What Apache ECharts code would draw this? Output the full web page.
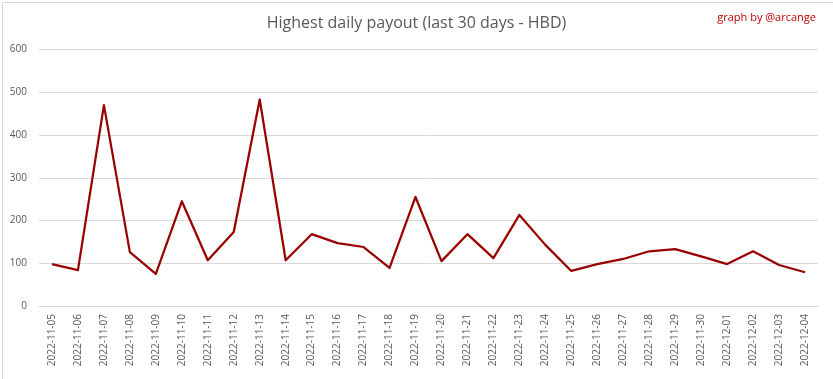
<!DOCTYPE html>
<html>
<head>
<meta charset="utf-8">
<script src="https://cdn.jsdelivr.net/npm/echarts@6/dist/echarts.min.js"></script>
<style>
html,body{margin:0;padding:0;background:#fff;}
#c{width:833px;height:379px;}
</style>
</head>
<body>
<div id="c"></div>
<script>
const categories = ["2022-11-05","2022-11-06","2022-11-07","2022-11-08","2022-11-09","2022-11-10","2022-11-11","2022-11-12","2022-11-13","2022-11-14","2022-11-15","2022-11-16","2022-11-17","2022-11-18","2022-11-19","2022-11-20","2022-11-21","2022-11-22","2022-11-23","2022-11-24","2022-11-25","2022-11-26","2022-11-27","2022-11-28","2022-11-29","2022-11-30","2022-12-01","2022-12-02","2022-12-03","2022-12-04"];
const payouts = [98,84,470,126,75,245,107,173,483,107,168,147,138,89,255,105,168,112,213,143,82,98,110,128,133,116,98,128,96,79];
const yTicks = [0,100,200,300,400,500,600];

const chart = echarts.init(document.getElementById('c'));
chart.setOption({
  animation: false,
  backgroundColor: '#fff',
  graphic: [{
    type: 'rect', left: 0, top: 0,
    shape: {x: 0.5, y: 0.5, width: 832, height: 378},
    style: {fill: 'none', stroke: '#d9d9d9', lineWidth: 1},
    silent: true
  }],
  title: [{
    text: 'Highest daily payout (last 30 days - HBD)',
    left: 'center', top: 10,
    textStyle: {fontFamily: 'Open Sans', fontWeight: 'normal', fontSize: 16, color: '#595959'}
  }, {
    text: 'graph by @arcange',
    right: 12, top: 7,
    textStyle: {fontFamily: 'Open Sans', fontWeight: 'normal', fontSize: 11, color: '#c00000'}
  }],
  grid: {left: 39, right: 15, top: 49.5, bottom: 73, containLabel: false},
  xAxis: {
    type: 'category',
    data: categories,
    boundaryGap: true,
    axisLine: {show: true, lineStyle: {color: '#d9d9d9', width: 1}},
    axisTick: {show: false},
    axisLabel: {rotate: 90, interval: 0, color: '#595959', fontFamily: 'Open Sans', fontSize: 10, margin: 8}
  },
  yAxis: {
    type: 'value',
    min: yTicks[0], max: yTicks[yTicks.length - 1], interval: 100,
    axisLine: {show: false},
    axisTick: {show: false},
    splitLine: {lineStyle: {color: '#d9d9d9', width: 1}},
    axisLabel: {color: '#595959', fontFamily: 'Open Sans', fontSize: 10, margin: 12}
  },
  series: [{
    type: 'line',
    data: payouts,
    showSymbol: false,
    symbol: 'none',
    lineStyle: {color: '#990000', width: 2.25, join: 'round'},
    itemStyle: {color: '#990000'}
  }]
});
</script>
</body>
</html>
